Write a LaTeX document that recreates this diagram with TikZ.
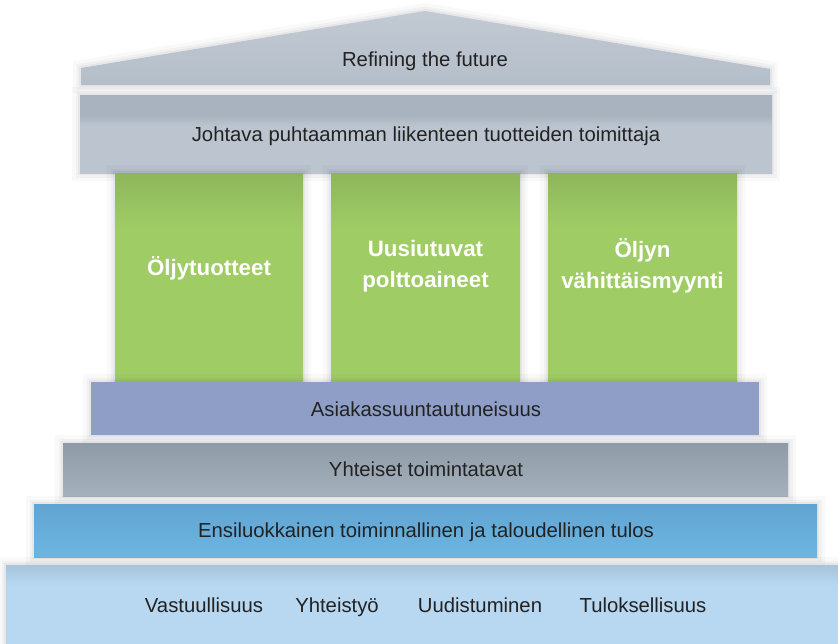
\documentclass[tikz,border=0pt]{standalone}
\usepackage{fontspec}
\setmainfont{Liberation Sans}
\definecolor{txt}{HTML}{222222}
\definecolor{roofT}{HTML}{C2CAD3}
\definecolor{roofB}{HTML}{B4BEC9}
\definecolor{archT}{HTML}{A9B3BF}
\definecolor{archB}{HTML}{BCC5CF}
\definecolor{pg}{HTML}{A0CC66}
\definecolor{pgtop}{HTML}{8DB65A}
\definecolor{asia}{HTML}{8F9EC6}
\definecolor{yhtT}{HTML}{8F9CA7}
\definecolor{yhtB}{HTML}{A4B1BD}
\definecolor{ensT}{HTML}{61A4D1}
\definecolor{ensB}{HTML}{6DB6E2}
\definecolor{baseT}{HTML}{A6C4DC}
\definecolor{baseB}{HTML}{B8D8F1}
\pgfdeclareverticalshading{pillarsh}{100bp}{color(0bp)=(pg); color(25bp)=(pg); color(62bp)=(pg); color(75bp)=(pgtop); color(100bp)=(pgtop)}
\pgfdeclareverticalshading{basesh}{100bp}{color(0bp)=(baseB); color(25bp)=(baseB); color(64bp)=(baseB); color(75bp)=(baseT); color(100bp)=(baseT)}
\pgfdeclareverticalshading{archsh}{100bp}{color(0bp)=(archB); color(25bp)=(archB); color(55bp)=(archB); color(62bp)=(archT); color(75bp)=(archT); color(100bp)=(archT)}
\begin{document}
\begin{tikzpicture}[x=1pt,y=-1pt,
  soft/.style={preaction={draw=black, draw opacity=0.022, line width=16pt},
               preaction={draw=black, draw opacity=0.03, line width=9pt},
               preaction={draw=black, draw opacity=0.04, line width=4pt}},
  slab/.style={rectangle, inner sep=0pt, soft},
  lbl/.style={inner sep=0pt, text=txt, text height=14pt, text depth=4pt, font=\fontsize{20.3}{24}\selectfont},
  plbl/.style={inner sep=0pt, text=white, align=center, font=\fontsize{22.3}{31}\selectfont\bfseries}]
\useasboundingbox (0,0) rectangle (838,643);
\clip (0,0) rectangle (838,643);
\fill[white] (0,0) rectangle (838,643);

% roof
\coordinate (rbl) at (81,85);
\coordinate (rl) at (81,68);
\coordinate (apex) at (425,11);
\coordinate (rr) at (770,69);
\coordinate (rbr) at (770,85);
\path[soft, top color=roofT, bottom color=roofB] (rbl) -- (rl) -- (apex) -- (rr) -- (rbr) -- cycle;
\node[lbl] (roof) at (425,61.5) {Refining the future};

% architrave
\node[slab, shading=archsh, minimum width=692pt, minimum height=78pt] (arch) at (426,134) {};
\node[lbl] (archtxt) at (426,136.5) {Johtava puhtaamman liikenteen tuotteiden toimittaja};

% pillars
\node[slab, shading=pillarsh, minimum width=188pt, minimum height=210pt] (p1) at (209,278) {};
\node[slab, shading=pillarsh, minimum width=189pt, minimum height=210pt] (p2) at (425.5,278) {};
\node[slab, shading=pillarsh, minimum width=189pt, minimum height=210pt] (p3) at (642.5,278) {};
\node[plbl] (t1) at ([yshift=10pt]p1.center) {Öljytuotteet};
\node[plbl] (t2) at ([yshift=12pt]p2.center) {Uusiutuvat\\polttoaineet};
\node[plbl] (t3) at ([yshift=12pt]p3.center) {Öljyn\\vähittäismyynti};

% steps
\node[slab, fill=asia, minimum width=668pt, minimum height=53pt] (asiak) at (425,408.5) {};
\node[lbl] (asiaktxt) at (426,411.5) {Asiakassuuntautuneisuus};

\node[slab, top color=yhtT, bottom color=yhtB, minimum width=725pt, minimum height=53pt] (yht) at (425.5,469.5) {};
\node[lbl] (yhttxt) at (426,471.5) {Yhteiset toimintatavat};

\node[slab, top color=ensT, bottom color=ensB, minimum width=783pt, minimum height=53pt] (ens) at (425.5,530.5) {};
\node[lbl] (enstxt) at (426,532.5) {Ensiluokkainen toiminnallinen ja taloudellinen tulos};

\node[slab, shading=basesh, minimum width=844pt, minimum height=95pt] (base) at (428,612.5) {};
\node[lbl] (v1) at (204,607.5) {Vastuullisuus};
\node[lbl] (v2) at (337,607.5) {Yhteistyö};
\node[lbl] (v3) at (480,607.5) {Uudistuminen};
\node[lbl] (v4) at (643,607.5) {Tuloksellisuus};
\end{tikzpicture}
\end{document}
